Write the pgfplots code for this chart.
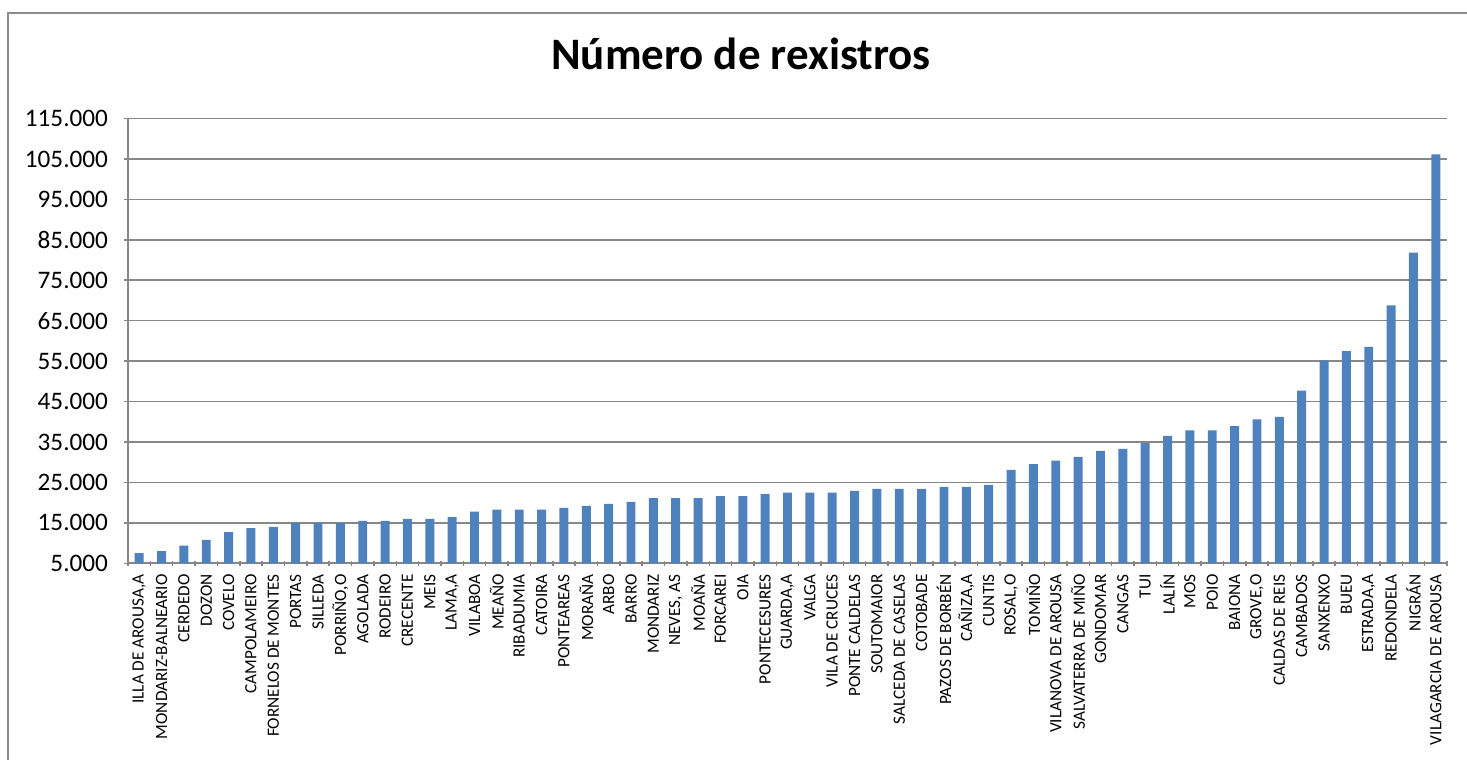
\documentclass[border=0pt]{standalone}
\usepackage{fontspec}
\setmainfont{Carlito}
\usepackage{pgfplots}
\pgfplotsset{compat=1.18}
\usetikzlibrary{calc}

\definecolor{barblue}{HTML}{4F81BD}
\definecolor{gridgray}{HTML}{878787}
\definecolor{framegray}{HTML}{8C8C8C}

\begin{document}
\begin{tikzpicture}
% target page: 1467 x 760 px at 0.5pt per px, axis box 659.5pt x 222.4pt
\begin{axis}[
    anchor=south west,
    scale only axis,
    width=659.5pt, height=222.4pt,
    ybar, bar width=0.4,
    xmin=0.5, xmax=59.5,
    ymin=5000, ymax=115000,
    ytick={5000,15000,...,115000},
    scaled y ticks=false,
    /pgf/number format/.cd, fixed, 1000 sep={.}, assume math mode=true,
    /pgfplots/.cd,
    xtick={1,...,59},
    xticklabels={
      {ILLA DE AROUSA,A},{MONDARIZ-BALNEARIO},{CERDEDO},{DOZON},{COVELO},
      {CAMPOLAMEIRO},{FORNELOS DE MONTES},{PORTAS},{SILLEDA},{PORRIÑO,O},
      {AGOLADA},{RODEIRO},{CRECENTE},{MEIS},{LAMA,A},
      {VILABOA},{MEAÑO},{RIBADUMIA},{CATOIRA},{PONTEAREAS},
      {MORAÑA},{ARBO},{BARRO},{MONDARIZ},{NEVES, AS},
      {MOAÑA},{FORCAREI},{OIA},{PONTECESURES},{GUARDA,A},
      {VALGA},{VILA DE CRUCES},{PONTE CALDELAS},{SOUTOMAIOR},{SALCEDA DE CASELAS},
      {COTOBADE},{PAZOS DE BORBÉN},{CAÑIZA,A},{CUNTIS},{ROSAL,O},
      {TOMIÑO},{VILANOVA DE AROUSA},{SALVATERRA DE MIÑO},{GONDOMAR},{CANGAS},
      {TUI},{LALÍN},{MOS},{POIO},{BAIONA},
      {GROVE,O},{CALDAS DE REIS},{CAMBADOS},{SANXENXO},{BUEU},
      {ESTRADA,A},{REDONDELA},{NIGRÁN},{VILAGARCIA DE AROUSA}},
    minor xtick={0.5,1.5,...,59.5},
    major x tick style={draw=none},
    minor x tick style={gridgray, line width=0.75pt},
    minor tick length=2.5pt,
    major tick length=4pt,
    tick align=outside,
    tick pos=left,
    ytick style={gridgray, line width=0.75pt},
    axis lines=left,
    axis line style={-, gridgray, line width=0.9pt},
    ymajorgrids,
    grid style={gridgray, line width=0.75pt},
    xticklabel style={rotate=90, anchor=east, font=\fontsize{8.6}{9}\selectfont},
    yticklabel style={font=\fontsize{12.6}{14}\selectfont, xshift=-4.5pt},
]
\addplot[fill=barblue, draw=none] coordinates {
  (1,7500) (2,8000) (3,9400) (4,10800) (5,12700)
  (6,13700) (7,14000) (8,15000) (9,15000) (10,15000)
  (11,15500) (12,15500) (13,16000) (14,16000) (15,16400)
  (16,17800) (17,18300) (18,18300) (19,18300) (20,18700)
  (21,19200) (22,19700) (23,20200) (24,21100) (25,21100)
  (26,21100) (27,21600) (28,21600) (29,22100) (30,22500)
  (31,22500) (32,22500) (33,22900) (34,23400) (35,23400)
  (36,23400) (37,23900) (38,23900) (39,24400) (40,28100)
  (41,29500) (42,30400) (43,31300) (44,32800) (45,33300)
  (46,34700) (47,36500) (48,37900) (49,37900) (50,38900)
  (51,40600) (52,41200) (53,47700) (54,55200) (55,57500)
  (56,58500) (57,68800) (58,81800) (59,106100)
};
\coordinate (ab) at (rel axis cs:0,0);
\end{axis}

\node[anchor=base, font=\bfseries\fontsize{22.5}{26}\selectfont] at ($(ab)+(306.5pt,247pt)$) {Número de rexistros};
\draw[framegray, line width=0.9pt] ($(ab)+(-60pt,-110pt)$) -- ($(ab)+(-60pt,275.15pt)$) -- ($(ab)+(690pt,275.15pt)$);

\pgfresetboundingbox
\path[use as bounding box] ($(ab)+(-64pt,-98.35pt)$) rectangle ($(ab)+(669.5pt,281.65pt)$);
\end{tikzpicture}
\end{document}
